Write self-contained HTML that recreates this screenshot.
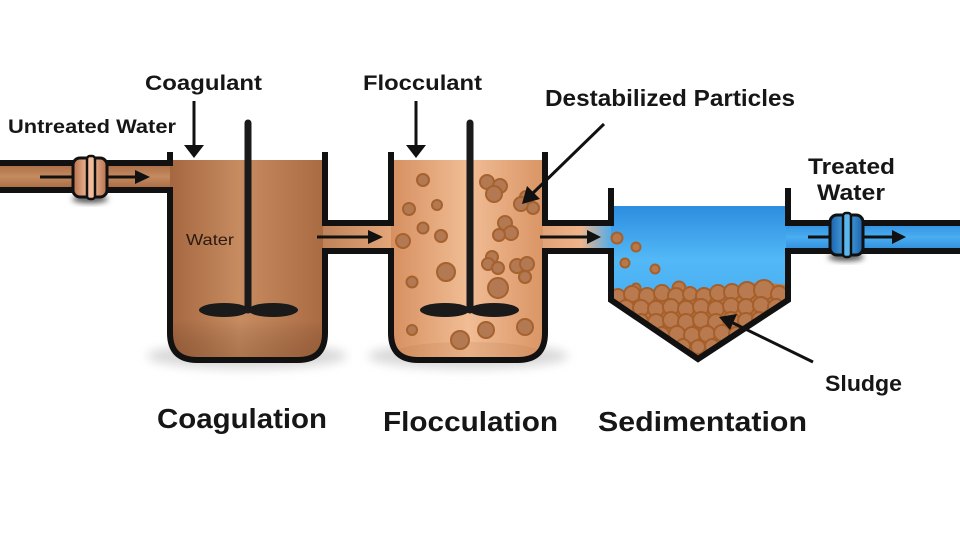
<!DOCTYPE html>
<html><head><meta charset="utf-8"><style>
html,body{margin:0;padding:0;background:#fff;}
svg{display:block;}
text{font-family:"Liberation Sans",sans-serif;font-weight:bold;fill:#161616;}
</style></head><body>
<svg width="960" height="548" viewBox="0 0 960 548" xmlns="http://www.w3.org/2000/svg">
<defs>
  <filter id="blur" x="-20%" y="-50%" width="140%" height="200%"><feGaussianBlur stdDeviation="5"/></filter>
  <filter id="blur2" x="-50%" y="-50%" width="200%" height="200%"><feGaussianBlur stdDeviation="3"/></filter>
  <linearGradient id="t1" x1="0" x2="1" y1="0" y2="0">
    <stop offset="0" stop-color="#a46740"/><stop offset="0.45" stop-color="#c88c61"/><stop offset="1" stop-color="#a96a42"/>
  </linearGradient>
  <linearGradient id="t1v" x1="0" x2="0" y1="0" y2="1">
    <stop offset="0" stop-color="#000" stop-opacity="0"/><stop offset="0.8" stop-color="#000" stop-opacity="0"/><stop offset="1" stop-color="#5a3010" stop-opacity="0.25"/>
  </linearGradient>
  <linearGradient id="inpipe" x1="0" x2="0" y1="0" y2="1">
    <stop offset="0" stop-color="#a86a42"/><stop offset="0.5" stop-color="#c48a60"/><stop offset="1" stop-color="#a56840"/>
  </linearGradient>
  <linearGradient id="t2" x1="0" x2="1" y1="0" y2="0">
    <stop offset="0" stop-color="#d68f60"/><stop offset="0.5" stop-color="#f1bd95"/><stop offset="1" stop-color="#d99464"/>
  </linearGradient>
  <linearGradient id="p2" x1="0" x2="1" y1="0" y2="0">
    <stop offset="0" stop-color="#c08258"/><stop offset="1" stop-color="#e4a77a"/>
  </linearGradient>
  <linearGradient id="p3" x1="0" x2="1" y1="0" y2="0">
    <stop offset="0" stop-color="#e3a277"/><stop offset="0.55" stop-color="#eeb48c"/><stop offset="1" stop-color="#49acef"/>
  </linearGradient>
  <linearGradient id="t3" x1="0" x2="0" y1="0" y2="1">
    <stop offset="0" stop-color="#2d8ddf"/><stop offset="0.35" stop-color="#52b8f6"/><stop offset="1" stop-color="#3da2ec"/>
  </linearGradient>
  <linearGradient id="outp" x1="0" x2="0" y1="0" y2="1">
    <stop offset="0" stop-color="#2f8ee0"/><stop offset="0.5" stop-color="#4aaef0"/><stop offset="1" stop-color="#2e8adb"/>
  </linearGradient>
  <linearGradient id="v1" x1="0" x2="1" y1="0" y2="0">
    <stop offset="0" stop-color="#b8704a"/><stop offset="0.5" stop-color="#f4c4a2"/><stop offset="1" stop-color="#b8704a"/>
  </linearGradient>
  <linearGradient id="v2" x1="0" x2="1" y1="0" y2="0">
    <stop offset="0" stop-color="#1c62a8"/><stop offset="0.5" stop-color="#4aa6ea"/><stop offset="1" stop-color="#1c62a8"/>
  </linearGradient>
  <clipPath id="c3"><path d="M611,206 H788 V300 L698,358 L611,300 Z"/></clipPath>
  <clipPath id="c2"><path d="M391,160 H545 V333 Q545,360 518,360 H418 Q391,360 391,333 Z"/></clipPath>
</defs>

<!-- shadows -->
<ellipse cx="247" cy="356" rx="100" ry="13" fill="#d9d9d9" filter="url(#blur)"/>
<ellipse cx="468" cy="356" rx="100" ry="13" fill="#d9d9d9" filter="url(#blur)"/>
<ellipse cx="90" cy="199" rx="18" ry="4" fill="#555" filter="url(#blur2)"/>
<ellipse cx="846" cy="257" rx="18" ry="4" fill="#555" filter="url(#blur2)"/>

<!-- fills -->
<rect x="0" y="163" width="172" height="27" fill="url(#inpipe)"/>
<path d="M170,160 H325 V333 Q325,360 298,360 H197 Q170,360 170,333 Z" fill="url(#t1)"/>
<path d="M170,160 H325 V333 Q325,360 298,360 H197 Q170,360 170,333 Z" fill="url(#t1v)"/>
<rect x="323" y="223" width="70" height="28" fill="url(#p2)"/>
<path d="M391,160 H545 V333 Q545,360 518,360 H418 Q391,360 391,333 Z" fill="url(#t2)"/>
<ellipse cx="468" cy="352" rx="72" ry="10" fill="#b06a3a" opacity="0.15"/>
<rect x="543" y="223" width="70" height="28" fill="url(#p3)"/>
<path d="M611,206 H788 V300 L698,358 L611,300 Z" fill="url(#t3)"/>
<rect x="786" y="223" width="174" height="28" fill="url(#outp)"/>

<!-- tank 2 particles -->
<g clip-path="url(#c2)" fill="#b37953" stroke="#a6622e" stroke-width="2">
  <circle cx="423" cy="180" r="6"/>
  <circle cx="409" cy="209" r="6"/>
  <circle cx="437" cy="205" r="5"/>
  <circle cx="423" cy="228" r="5.5"/>
  <circle cx="441" cy="236" r="6"/>
  <circle cx="403" cy="241" r="7"/>
  <circle cx="446" cy="272" r="9"/>
  <circle cx="412" cy="282" r="5.5"/>
  <circle cx="412" cy="330" r="5"/>
  <circle cx="460" cy="340" r="9"/>
  <circle cx="486" cy="330" r="8"/>
  <circle cx="525" cy="327" r="8"/>
  <circle cx="487" cy="182" r="7"/><circle cx="500" cy="186" r="7"/><circle cx="494" cy="194" r="8"/>
  <circle cx="526" cy="197" r="6"/><circle cx="533" cy="208" r="6"/><circle cx="521" cy="204" r="7"/>
  <circle cx="505" cy="223" r="7"/><circle cx="511" cy="233" r="7"/><circle cx="499" cy="235" r="6"/>
  <circle cx="492" cy="257" r="6"/><circle cx="488" cy="264" r="6"/><circle cx="498" cy="268" r="6"/>
  <circle cx="517" cy="266" r="7"/><circle cx="527" cy="264" r="7"/><circle cx="525" cy="277" r="6"/>
  <circle cx="498" cy="288" r="10"/>
</g>

<!-- sedimentation particles -->
<g fill="#b8784c" stroke="#a5602c" stroke-width="2">
  <circle cx="617" cy="238" r="5.5"/>
  <circle cx="636" cy="247" r="4.5"/>
  <circle cx="625" cy="263" r="4.5"/>
  <circle cx="655" cy="269" r="4.5"/>
  <circle cx="636" cy="288" r="4.5"/>
  <circle cx="679" cy="288" r="6.5"/>
</g>
<g clip-path="url(#c3)">
  <path d="M611,294 L640,291 L670,290 L700,292 L730,287 L760,282 L788,285 V302 L698,360 L611,302 Z" fill="#c07943"/>
  <g fill="#b97a4f" stroke="#a55f2b" stroke-width="2">
    <circle cx="618" cy="296" r="7"/><circle cx="632" cy="294" r="8"/><circle cx="647" cy="296" r="8"/><circle cx="662" cy="293" r="8"/><circle cx="676" cy="296" r="8"/><circle cx="690" cy="294" r="7"/><circle cx="704" cy="296" r="8"/><circle cx="718" cy="293" r="8"/><circle cx="732" cy="292" r="8"/><circle cx="747" cy="291" r="9"/><circle cx="764" cy="290" r="10"/><circle cx="779" cy="294" r="8"/>
    <circle cx="626" cy="308" r="8"/><circle cx="641" cy="308" r="8"/><circle cx="656" cy="309" r="8"/><circle cx="671" cy="307" r="8"/><circle cx="686" cy="309" r="8"/><circle cx="701" cy="307" r="8"/><circle cx="716" cy="309" r="8"/><circle cx="731" cy="306" r="8"/><circle cx="746" cy="307" r="8"/><circle cx="761" cy="305" r="8"/><circle cx="776" cy="307" r="8"/>
    <circle cx="641" cy="321" r="7"/><circle cx="656" cy="322" r="8"/><circle cx="671" cy="320" r="8"/><circle cx="686" cy="322" r="8"/><circle cx="701" cy="320" r="8"/><circle cx="716" cy="322" r="8"/><circle cx="731" cy="320" r="8"/><circle cx="746" cy="321" r="8"/><circle cx="759" cy="319" r="7"/>
    <circle cx="662" cy="334" r="7"/><circle cx="677" cy="334" r="8"/><circle cx="692" cy="335" r="8"/><circle cx="707" cy="334" r="8"/><circle cx="722" cy="333" r="8"/><circle cx="736" cy="334" r="7"/>
    <circle cx="683" cy="346" r="7"/><circle cx="698" cy="347" r="7"/><circle cx="712" cy="346" r="7"/>
  </g>
</g>

<!-- stirrers -->
<g fill="#1a1a1a" stroke="#1a1a1a" stroke-linecap="round">
  <line x1="248" y1="123" x2="248" y2="310" stroke-width="7"/>
  <ellipse cx="224" cy="310" rx="25" ry="7" stroke="none"/>
  <ellipse cx="273" cy="310" rx="25" ry="7" stroke="none"/>
  <line x1="470" y1="123" x2="470" y2="310" stroke-width="7"/>
  <ellipse cx="445" cy="310" rx="25" ry="7" stroke="none"/>
  <ellipse cx="494" cy="310" rx="25" ry="7" stroke="none"/>
</g>

<!-- outlines -->
<g fill="none" stroke="#111" stroke-width="6" stroke-linejoin="miter">
  <path d="M0,163 H170 V152"/>
  <path d="M0,190 H170 V333 Q170,360 197,360 H298 Q325,360 325,333 V251 H391 V333 Q391,360 418,360 H518 Q545,360 545,333 V251 H611 V300 L698,359 L788,300 V251 H960"/>
  <path d="M325,152 V223 H391 V152"/>
  <path d="M545,152 V223 H611 V188"/>
  <path d="M788,188 V223 H960"/>
</g>

<!-- flow arrows -->
<g stroke="#111" stroke-width="3" fill="#111">
  <line x1="40" y1="177" x2="140" y2="177"/>
  <polygon points="135,170 150,177 135,184" stroke="none"/>
  <line x1="317" y1="237" x2="372" y2="237"/>
  <polygon points="368,230 383,237 368,244" stroke="none"/>
  <line x1="540" y1="237" x2="590" y2="237"/>
  <polygon points="587,230 601,237 587,244" stroke="none"/>
  <line x1="808" y1="237" x2="896" y2="237"/>
  <polygon points="892,230 906,237 892,244" stroke="none"/>
</g>

<!-- valves -->
<rect x="73" y="158" width="34" height="39" rx="7" fill="url(#v1)" stroke="#111" stroke-width="3"/>
<rect x="87" y="156" width="8" height="43" rx="3" fill="#f2bc9a" stroke="#111" stroke-width="2.5"/>
<rect x="830" y="215" width="33" height="40" rx="7" fill="url(#v2)" stroke="#111" stroke-width="3"/>
<rect x="843" y="213" width="8" height="44" rx="3" fill="#5ab6ee" stroke="#111" stroke-width="2.5"/>

<!-- label arrows -->
<g stroke="#111" stroke-width="3" fill="#111">
  <line x1="194" y1="101" x2="194" y2="148"/>
  <polygon points="184,145 204,145 194,158" stroke="none"/>
  <line x1="416" y1="101" x2="416" y2="148"/>
  <polygon points="406,145 426,145 416,158" stroke="none"/>
  <line x1="604" y1="124" x2="532" y2="194"/>
  <polygon points="522,204 527,186 540,199" stroke="none"/>
  <line x1="813" y1="362" x2="731" y2="322"/>
  <polygon points="719,317 737,314 730,330" stroke="none"/>
</g>

<!-- text -->
<text x="8" y="133" font-size="19" textLength="168" lengthAdjust="spacingAndGlyphs">Untreated Water</text>
<text x="145" y="90" font-size="21" textLength="117" lengthAdjust="spacingAndGlyphs">Coagulant</text>
<text x="363" y="90" font-size="21" textLength="119" lengthAdjust="spacingAndGlyphs">Flocculant</text>
<text x="545" y="106" font-size="23" textLength="250" lengthAdjust="spacingAndGlyphs">Destabilized Particles</text>
<text x="808" y="174" font-size="22" textLength="87" lengthAdjust="spacingAndGlyphs">Treated</text>
<text x="817" y="200" font-size="22" textLength="68" lengthAdjust="spacingAndGlyphs">Water</text>
<text x="825" y="391" font-size="22" textLength="77" lengthAdjust="spacingAndGlyphs">Sludge</text>
<text x="186" y="245" font-size="16" font-weight="normal" style="font-weight:normal;fill:#2a1a10" textLength="48" lengthAdjust="spacingAndGlyphs">Water</text>
<text x="157" y="428" font-size="28" textLength="170" lengthAdjust="spacingAndGlyphs">Coagulation</text>
<text x="383" y="431" font-size="28" textLength="175" lengthAdjust="spacingAndGlyphs">Flocculation</text>
<text x="598" y="431" font-size="28" textLength="209" lengthAdjust="spacingAndGlyphs">Sedimentation</text>
</svg>
</body></html>
